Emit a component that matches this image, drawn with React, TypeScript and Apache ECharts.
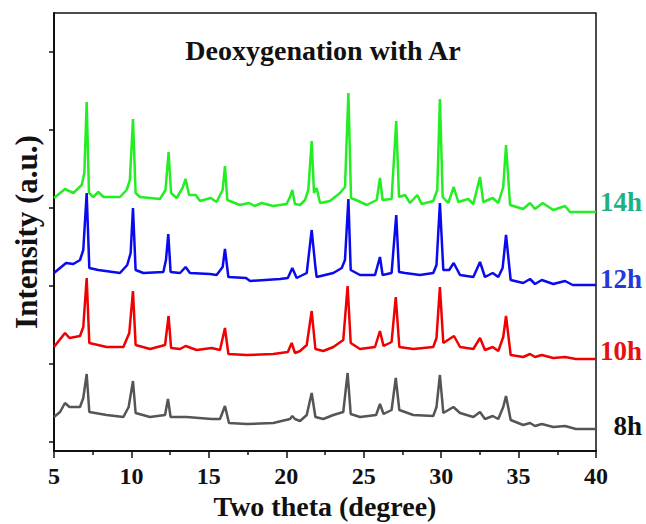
import React, { useEffect, useRef } from "react";
import * as echarts from "echarts";

const FONT = "'Times New Roman', 'Liberation Serif', serif";

const xTicks = [5, 10, 15, 20, 25, 30, 35, 40];
const yTickValues = [9, 87, 165, 243, 321, 399];
const seriesNames = ["8h", "10h", "12h", "14h"];
const lineColors = ["#555555", "#F00000", "#0A0AEE", "#22EE22"];
const labelColors = ["#111111", "#E81010", "#2838D8", "#20B088"];

const data8h: [number, number][] = [
  [5, 34], [5.39, 39], [5.71, 48], [6.0, 44], [6.68, 44], [6.89, 53], [7.11, 77], [7.28, 39],
  [8.4, 36], [9.48, 34], [9.82, 44], [10.1, 70], [10.27, 38], [11.2, 34], [12.17, 36], [12.36, 52],
  [12.53, 34], [13.57, 34], [15.18, 32], [15.72, 32], [16.04, 45], [16.3, 28], [17.44, 27], [19.16, 28],
  [20.24, 32], [20.39, 35], [20.56, 32], [20.89, 30], [21.32, 36], [21.64, 58], [21.88, 34], [22.39, 32],
  [23.04, 36], [23.68, 39], [23.96, 78], [24.16, 37], [24.76, 34], [25.8, 36], [26.05, 47], [26.28, 37],
  [26.8, 41], [27.07, 73], [27.3, 41], [28.2, 36], [29.49, 35], [29.7, 44], [29.92, 76], [30.14, 38],
  [30.79, 44], [31.22, 38], [32.08, 34], [32.51, 39], [32.83, 32], [33.33, 35], [33.69, 32], [34.01, 44],
  [34.19, 55], [34.49, 31], [35.3, 26], [35.74, 28], [36.06, 25], [36.5, 27], [37.24, 24], [38.0, 25],
  [38.7, 22], [40, 22],
];

const data10h: [number, number][] = [
  [5, 104], [5.71, 118], [6.0, 113], [6.68, 115], [6.89, 124], [7.11, 173], [7.28, 108], [8.4, 104],
  [9.48, 104], [9.86, 118], [10.1, 160], [10.27, 106], [11.2, 102], [12.17, 106], [12.4, 135], [12.56, 103],
  [13.14, 102], [13.5, 105], [14.21, 101], [15.18, 103], [15.72, 101], [16.04, 123], [16.26, 97], [17.44, 96],
  [19.16, 97], [20.1, 99], [20.35, 108], [20.56, 98], [20.89, 100], [21.32, 106], [21.64, 140], [21.88, 102],
  [22.39, 100], [23.04, 104], [23.68, 111], [23.96, 165], [24.16, 108], [24.76, 102], [25.73, 104], [26.05, 120],
  [26.28, 105], [26.8, 109], [27.07, 154], [27.3, 104], [28.2, 102], [29.49, 104], [29.7, 113], [29.92, 164],
  [30.14, 108], [30.83, 115], [31.22, 104], [32.08, 102], [32.51, 113], [32.83, 101], [33.33, 104], [33.69, 100],
  [34.01, 114], [34.19, 135], [34.49, 96], [35.3, 94], [35.74, 97], [36.06, 94], [36.5, 96], [37.24, 93],
  [38.0, 94], [38.7, 92], [40, 92],
];

const data12h: [number, number][] = [
  [5, 178], [5.78, 188], [6.25, 187], [6.68, 191], [6.89, 201], [7.11, 258], [7.28, 183], [7.86, 181],
  [9.26, 178], [9.73, 186], [9.95, 198], [10.1, 243], [10.27, 181], [10.77, 178], [12.06, 179], [12.23, 191],
  [12.38, 217], [12.53, 179], [13.14, 178], [13.5, 184], [13.78, 178], [15.07, 177], [15.5, 176], [15.89, 184],
  [16.04, 202], [16.26, 174], [17.4, 173], [17.66, 170], [19.6, 172], [20.1, 173], [20.39, 183], [20.67, 173],
  [21.32, 178], [21.64, 221], [21.88, 184], [21.96, 174], [23.04, 178], [23.58, 183], [23.79, 191], [24.01, 252],
  [24.16, 181], [24.76, 176], [25.73, 176], [26.05, 194], [26.22, 176], [26.8, 178], [27.1, 236], [27.28, 179],
  [27.67, 178], [28.63, 176], [29.49, 178], [29.7, 186], [29.92, 248], [30.14, 181], [30.52, 181], [30.81, 188],
  [31.22, 176], [32.08, 174], [32.51, 189], [32.83, 174], [33.33, 178], [33.69, 174], [33.97, 183], [34.19, 216],
  [34.49, 171], [35.3, 168], [35.74, 172], [36.06, 167], [36.5, 171], [37.24, 167], [38.0, 170], [38.5, 166],
  [40, 166],
];

const data14h: [number, number][] = [
  [5, 253], [5.71, 262], [6.25, 258], [6.79, 266], [6.96, 278], [7.11, 349], [7.26, 258], [7.54, 254],
  [7.86, 259], [8.2, 254], [9.26, 254], [9.69, 261], [9.9, 271], [10.1, 332], [10.27, 258], [10.55, 254],
  [11.84, 252], [12.2, 261], [12.4, 299], [12.56, 258], [12.92, 253], [13.3, 263], [13.5, 272], [13.72, 256],
  [14.15, 256], [14.43, 250], [15.12, 253], [15.5, 249], [15.89, 261], [16.04, 285], [16.19, 251], [17.0, 246],
  [17.6, 248], [17.96, 245], [18.41, 248], [19.16, 245], [20.02, 247], [20.24, 254], [20.39, 261], [20.56, 247],
  [20.89, 246], [21.21, 251], [21.42, 261], [21.64, 310], [21.79, 258], [21.96, 263], [22.18, 248], [22.82, 250],
  [23.47, 258], [23.79, 264], [24.01, 358], [24.18, 253], [24.65, 250], [25.19, 246], [25.84, 251], [26.05, 273],
  [26.22, 251], [26.8, 252], [27.1, 330], [27.28, 254], [27.67, 256], [27.99, 248], [28.46, 256], [28.74, 247],
  [29.49, 250], [29.75, 261], [29.92, 352], [30.1, 254], [30.46, 248], [30.81, 264], [31.11, 249], [31.75, 252],
  [32.08, 247], [32.51, 274], [32.72, 249], [33.33, 253], [33.69, 248], [34.01, 264], [34.19, 306], [34.45, 246],
  [35.3, 242], [35.74, 248], [36.06, 242], [36.56, 248], [37.24, 241], [38.0, 245], [38.32, 239], [40, 239],
];

const allData = [data8h, data10h, data12h, data14h];
const labelOffsets = [-3.4, -8.4, -5.8, -9.7];

export default function App() {
  const ref = useRef<HTMLDivElement>(null);
  useEffect(() => {
    if (!ref.current) return;
    const chart = echarts.init(ref.current, null, { renderer: "svg" });
    chart.setOption({
      animation: false,
      backgroundColor: "#ffffff",
      title: {
        text: "Deoxygenation with Ar",
        left: "center",
        top: 36,
        padding: 0,
        textStyle: { fontFamily: FONT, fontWeight: "bold", fontSize: 28, color: "#111" },
      },
      grid: {
        left: 54,
        top: 13,
        width: 542,
        height: 438,
        show: true,
        borderColor: "#111",
        borderWidth: 1.5,
        backgroundColor: "transparent",
        containLabel: false,
        outerBoundsMode: "none",
      },
      xAxis: {
        type: "value",
        min: xTicks[0],
        max: xTicks[xTicks.length - 1],
        interval: 5,
        name: "Two theta (degree)",
        nameLocation: "middle",
        nameGap: 41,
        nameMoveOverlap: false,
        nameTextStyle: { fontFamily: FONT, fontWeight: "bold", fontSize: 28, lineHeight: 28, color: "#111" },
        axisLine: { show: true, lineStyle: { color: "#111", width: 2 } },
        axisTick: { show: true, inside: false, length: 7, lineStyle: { color: "#111", width: 1.5 } },
        minorTick: { show: true, splitNumber: 2, length: 4, lineStyle: { color: "#111", width: 1.5 } },
        axisLabel: { fontFamily: FONT, fontWeight: "bold", fontSize: 24, lineHeight: 24, color: "#111", margin: 13 },
        splitLine: { show: false },
      },
      yAxis: {
        type: "value",
        min: 0,
        max: 438,
        name: "Intensity (a.u.)",
        nameLocation: "middle",
        nameGap: 12,
        nameMoveOverlap: false,
        nameTextStyle: { fontFamily: FONT, fontWeight: "bold", fontSize: 31, color: "#111" },
        axisLine: { show: true, lineStyle: { color: "#111", width: 2 } },
        axisTick: {
          show: true,
          inside: false,
          length: 5,
          customValues: yTickValues,
          lineStyle: { color: "#111", width: 1.5 },
        },
        axisLabel: { show: false },
        splitLine: { show: false },
      },
      series: allData.map((d, i) => ({
        name: seriesNames[i],
        type: "line",
        data: d,
        showSymbol: false,
        symbol: "none",
        lineStyle: { color: lineColors[i], width: 2.5 },
        itemStyle: { color: lineColors[i] },
        z: 2 + i,
        endLabel: {
          show: true,
          formatter: seriesNames[i],
          align: "right",
          distance: 46,
          offset: [0, labelOffsets[i]],
          color: labelColors[i],
          fontFamily: FONT,
          fontWeight: "bold",
          fontSize: 27,
        },
      })),
    });
    return () => chart.dispose();
  }, []);
  return (
    <div
      ref={ref}
      style={{ position: "fixed", left: 0, top: 0, width: 646, height: 524, background: "#fff" }}
    />
  );
}
